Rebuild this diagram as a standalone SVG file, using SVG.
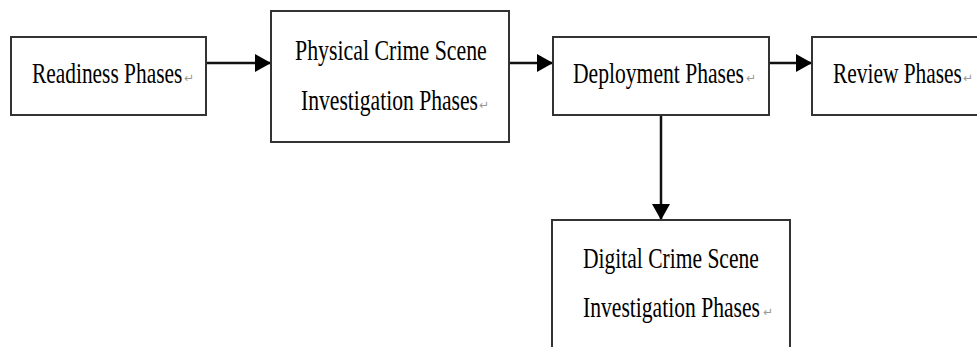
<svg xmlns="http://www.w3.org/2000/svg" width="977" height="347" viewBox="0 0 977 347">
<style>
.box{fill:#fff;stroke:#333;stroke-width:2}
.lbl{font-family:"Liberation Serif","Times New Roman",serif;font-size:29px;fill:#000}
.pm{font-family:"DejaVu Sans",sans-serif;font-size:12px;fill:#999}
.conn{stroke:#111;stroke-width:2.5;fill:none;marker-end:url(#ah)}
</style>
<defs>
<marker id="ah" markerUnits="userSpaceOnUse" markerWidth="16" markerHeight="18" refX="16" refY="9" orient="auto">
<path d="M0,0 L16,9 L0,18 z" fill="#000"/>
</marker>
</defs>
<rect width="977" height="347" fill="#fff"/>
<g id="connectors">
<path class="conn" d="M206,63 H271"/>
<path class="conn" d="M509,63 H553"/>
<path class="conn" d="M769,63 H812"/>
<path class="conn" d="M661,115 V220"/>
</g>
<g id="readiness">
<rect class="box" x="11" y="37" width="195" height="78"/>
<text class="lbl" transform="translate(32,83) scale(0.738,1)">Readiness Phases</text>
<text class="pm" x="184" y="82">↵</text>
</g>
<g id="physical">
<rect class="box" x="271" y="11" width="238" height="131"/>
<text class="lbl" transform="translate(295,60) scale(0.754,1)">Physical Crime Scene</text>
<text class="lbl" transform="translate(301,110) scale(0.745,1)">Investigation Phases</text>
<text class="pm" x="479" y="109">↵</text>
</g>
<g id="deployment">
<rect class="box" x="553" y="37" width="216" height="78"/>
<text class="lbl" transform="translate(573,83) scale(0.745,1)">Deployment Phases</text>
<text class="pm" x="746" y="82">↵</text>
</g>
<g id="review">
<rect class="box" x="812" y="37" width="175" height="78"/>
<text class="lbl" transform="translate(833,83) scale(0.738,1)">Review Phases</text>
<text class="pm" x="963" y="82">↵</text>
</g>
<g id="digital">
<rect class="box" x="552" y="220" width="238" height="140"/>
<text class="lbl" transform="translate(583,268) scale(0.743,1)">Digital Crime Scene</text>
<text class="lbl" transform="translate(583,317) scale(0.745,1)">Investigation Phases</text>
<text class="pm" x="763" y="316">↵</text>
</g>
</svg>
